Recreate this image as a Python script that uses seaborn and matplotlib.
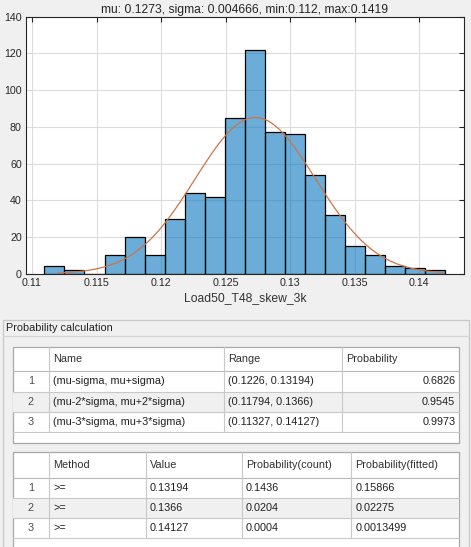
import numpy as np
import pandas as pd
import matplotlib
matplotlib.use("Agg")
import matplotlib.pyplot as plt
from matplotlib.patches import Rectangle
import seaborn as sns

# histogram
bin_edges = [0.11096, 0.11251, 0.11407, 0.11562, 0.11717, 0.11873, 0.12028,
             0.12183, 0.12338, 0.12494, 0.12649, 0.12804, 0.12960, 0.13115,
             0.13270, 0.13425, 0.13581, 0.13736, 0.13891, 0.14047, 0.14202]
counts = [4, 2, 0, 10, 20, 10, 30, 44, 42, 85, 122, 77, 76, 54, 32, 15, 10, 4, 3, 2]

mu = 0.1273
sigma = 0.004666
x_min = 0.112
x_max = 0.1419
var_name = "Load50_T48_skew_3k"

# tables
t1_cols = ["Name", "Range", "Probability"]
t1_names = ["(mu-sigma, mu+sigma)", "(mu-2*sigma, mu+2*sigma)", "(mu-3*sigma, mu+3*sigma)"]
t1_ranges = ["(0.1226, 0.13194)", "(0.11794, 0.1366)", "(0.11327, 0.14127)"]
t1_probs = ["0.6826", "0.9545", "0.9973"]

t2_cols = ["Method", "Value", "Probability(count)", "Probability(fitted)"]
t2_methods = [">=", ">=", ">="]
t2_values = ["0.13194", "0.1366", "0.14127"]
t2_count = ["0.1436", "0.0204", "0.0004"]
t2_fitted = ["0.15866", "0.02275", "0.0013499"]

sns.set_style("white")
plt.rcParams['font.family'] = ['Liberation Sans', 'DejaVu Sans']
W, H = 471, 547
FS = 7.8
fig = plt.figure(figsize=(W / 100, H / 100), dpi=100, facecolor="#f0f0f0")

# overlay in pixel coordinates for the panel and tables
ov = fig.add_axes([0, 0, 1, 1])
ov.set_xlim(0, W)
ov.set_ylim(H, 0)
ov.axis("off")
ov.patch.set_alpha(0)

# panel
ov.add_patch(Rectangle((3, 319.5), 466, 240, facecolor="#f0f0f0", edgecolor="#c8c8c8", lw=0.9))
ov.plot([3, 469], [336, 336], color="#d4d4d4", lw=0.9)
ov.text(6, 328, "Probability calculation", fontsize=FS, color="#222222", va="center", ha="left")


def draw_table(top, col_x, row_h, header_h, bottom, header, rows, align):
    left, right = col_x[0], col_x[-1]
    ov.add_patch(Rectangle((left, top), right - left, bottom - top,
                           facecolor="white", edgecolor="#a8a8a8", lw=0.9, zorder=1))
    y = top + header_h
    ov.plot([left, right], [y, y], color="#b8b8b8", lw=0.8, zorder=3)
    for c, txt in enumerate(header):
        ov.text(col_x[c + 1] + 4, top + header_h / 2, txt, fontsize=FS,
                color="#303030", va="center", ha="left", zorder=4)
    for r, row in enumerate(rows):
        y0 = top + header_h + r * row_h
        if r % 2 == 1:
            ov.add_patch(Rectangle((left + 0.5, y0), right - left - 1, row_h,
                                   facecolor="#f0f0f0", edgecolor="none", zorder=2))
        ov.plot([left, right], [y0 + row_h, y0 + row_h], color="#c8c8c8", lw=0.8, zorder=3)
        ov.text((col_x[0] + col_x[1]) / 2, y0 + row_h / 2, str(r + 1), fontsize=FS,
                color="#505050", va="center", ha="center", zorder=4)
        for c, txt in enumerate(row):
            if align[c] == "right":
                ov.text(col_x[c + 2] - 4, y0 + row_h / 2, txt, fontsize=FS,
                        color="#202020", va="center", ha="right", zorder=4)
            else:
                ov.text(col_x[c + 1] + 4, y0 + row_h / 2, txt, fontsize=FS,
                        color="#202020", va="center", ha="left", zorder=4)
    y_end = top + header_h + len(rows) * row_h
    for x in col_x[1:-1]:
        ov.plot([x, x], [top, y_end], color="#c8c8c8", lw=0.8, zorder=3)


draw_table(346.7, [12.7, 49.3, 224.3, 341.7, 459.3], 20.3, 24.6, 442.7,
           t1_cols, list(zip(t1_names, t1_ranges, t1_probs)), ["left", "left", "right"])
draw_table(452.3, [12.7, 49.3, 145.7, 242, 351.3, 459.3], 20, 25.4, 560,
           t2_cols, list(zip(t2_methods, t2_values, t2_count, t2_fitted)),
           ["left", "left", "left", "left"])

# histogram axes
ax = fig.add_axes([26 / W, 1 - 273.7 / H, (464 - 26) / W, (273.7 - 16.7) / H])
ax.set_facecolor("white")
centers = [(a + b) / 2 for a, b in zip(bin_edges[:-1], bin_edges[1:])]
df = pd.DataFrame({"x": centers, "n": counts})
sns.histplot(data=df, x="x", weights="n", bins=bin_edges, ax=ax,
             color="#0072BD", alpha=0.58, edgecolor="black", linewidth=0.9)

# fitted normal scaled to counts
bw = bin_edges[1] - bin_edges[0]
xs = np.linspace(x_min, x_max, 300)
ys = sum(counts) * bw * np.exp(-0.5 * ((xs - mu) / sigma) ** 2) / (sigma * np.sqrt(2 * np.pi))
sns.lineplot(x=xs, y=ys, ax=ax, color="#CC7448", linewidth=0.9)

ax.set_xlim(0.10954, 0.14346)
ax.set_ylim(0, 140)
ax.set_xticks([0.11, 0.115, 0.12, 0.125, 0.13, 0.135, 0.14])
ax.set_xticklabels(["0.11", "0.115", "0.12", "0.125", "0.13", "0.135", "0.14"])
ax.set_yticks(range(0, 141, 20))
ax.grid(True, color="#dcdcdc", lw=0.8)
ax.set_axisbelow(True)
ax.tick_params(direction="in", length=3.5, width=0.8, top=True, right=True,
               labelsize=7.7, labelcolor="#262626", color="#262626", pad=3)
for s in ax.spines.values():
    s.set_color("#262626")
    s.set_linewidth(0.8)
ax.set_xlabel(var_name, fontsize=8.7, color="#333333", labelpad=3)
ax.set_ylabel("")
ax.set_title("mu: %s, sigma: %s, min:%s, max:%s" % (mu, sigma, x_min, x_max),
             fontsize=8.7, color="#262626", pad=3)

fig.savefig("out.png", dpi=100, facecolor=fig.get_facecolor())
